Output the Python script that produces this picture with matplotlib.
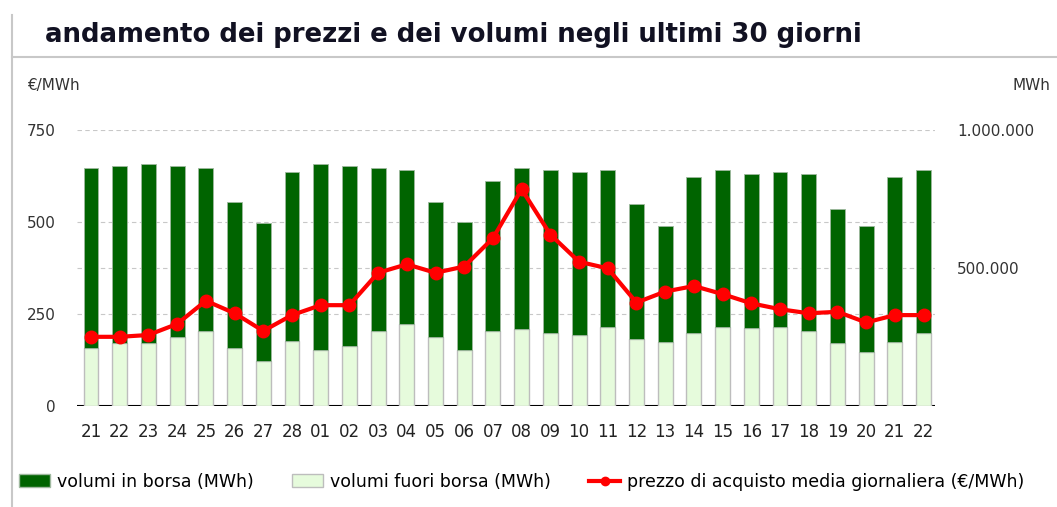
import numpy as np
import matplotlib.pyplot as plt
from matplotlib.patches import Patch
from matplotlib.lines import Line2D
from matplotlib.ticker import FuncFormatter

giorni = ['21', '22', '23', '24', '25', '26', '27', '28', '01', '02', '03', '04', '05', '06', '07',
          '08', '09', '10', '11', '12', '13', '14', '15', '16', '17', '18', '19', '20', '21', '22']

# volumi totali (MWh) e quota fuori borsa
volumi_totali = [861000, 871000, 878000, 871000, 862000, 738000, 662000, 847000, 878000, 871000,
                 862000, 855000, 738000, 668000, 815000, 862000, 854000, 847000, 854000, 731000,
                 652000, 831000, 854000, 839000, 847000, 839000, 715000, 652000, 831000, 854000]
volumi_fuori = [209000, 227000, 227000, 251000, 273000, 211000, 164000, 235000, 203000, 219000,
                273000, 297000, 250000, 203000, 273000, 279000, 266000, 257000, 287000, 242000,
                233000, 266000, 287000, 281000, 287000, 273000, 227000, 197000, 233000, 266000]
# prezzo di acquisto (€/MWh)
prezzo = [188, 188, 193, 223, 286, 252, 204, 247, 274, 274, 362, 385, 362, 379, 456,
          589, 466, 392, 374, 281, 311, 326, 304, 279, 263, 252, 256, 227, 247, 247]

volumi_borsa = np.array(volumi_totali) - np.array(volumi_fuori)
x = np.arange(len(giorni))

verde = '#006400'
verde_chiaro = '#e6fbdc'
rosso = '#ff0000'

fig = plt.figure(figsize=(10.57, 5.07), dpi=100)
ax = fig.add_axes([0.0728, 0.1992, 0.8118, 0.5444])
ax2 = ax.twinx()

# volumi sull'asse di destra
ax.bar(x, volumi_fuori, width=0.52, color=verde_chiaro, edgecolor='#bdbdbd', linewidth=1, zorder=3)
ax.bar(x, volumi_borsa, bottom=volumi_fuori, width=0.52, color=verde, edgecolor='#9fb99f',
       linewidth=0.6, zorder=3)
ax.axhline(0, color='black', lw=1.5, zorder=2)
ax.set_ylim(0, 1000000)
ax.set_xlim(-0.49, 29.4)
ax.yaxis.tick_right()
ax.set_yticks([500000, 1000000])
ax.set_yticks([1000000 / 3, 2000000 / 3], minor=True)
ax.yaxis.set_major_formatter(FuncFormatter(lambda v, p: f'{int(v):,}'.replace(',', '.')))
ax.grid(axis='y', which='both', color='#c8c8c8', linestyle=(0, (4, 3)), linewidth=0.8, zorder=0)
ax.tick_params(axis='y', which='both', length=0, pad=16, labelsize=11, labelcolor='#333333')
ax.set_xticks(x)
ax.set_xticklabels(giorni)
ax.tick_params(axis='x', length=0, pad=12, labelsize=12, labelcolor='#222222')
for s in ax.spines.values():
    s.set_visible(False)

# prezzo sull'asse di sinistra
ax2.plot(x, prezzo, color=rosso, lw=3, marker='o', markersize=9, zorder=5)
ax2.set_ylim(0, 750)
ax2.yaxis.tick_left()
ax2.set_yticks([0, 250, 500, 750])
ax2.tick_params(axis='y', length=0, pad=15, labelsize=11, labelcolor='#333333')
for s in ax2.spines.values():
    s.set_visible(False)

fig.text(0.043, 0.93, 'andamento dei prezzi e dei volumi negli ultimi 30 giorni',
         fontsize=18.7, fontweight='bold', color='#111122', va='center')
fig.add_artist(Line2D([0.011, 1.0], [0.887, 0.887], color='#c8c8c8', lw=1.5))
fig.add_artist(Line2D([0.011, 0.011], [0.0, 0.97], color='#c8c8c8', lw=1.5))
fig.text(0.026, 0.832, '€/MWh', fontsize=11, color='#333333', va='center')
fig.text(0.994, 0.832, 'MWh', fontsize=11, color='#333333', va='center', ha='right')

handles = [Patch(facecolor=verde, edgecolor='#9fb99f'),
           Patch(facecolor=verde_chiaro, edgecolor='#bdbdbd'),
           Line2D([], [], color=rosso, lw=3, marker='o', markersize=6)]
labels = ['volumi in borsa (MWh)', 'volumi fuori borsa (MWh)',
          'prezzo di acquisto media giornaliera (€/MWh)']
fig.legend(handles, labels, loc='center left', bbox_to_anchor=(0.003, 0.05), ncol=3, frameon=False,
           fontsize=12.5, handlelength=1.8, handletextpad=0.4, columnspacing=2.2)

fig.savefig('out.png', dpi=100)
